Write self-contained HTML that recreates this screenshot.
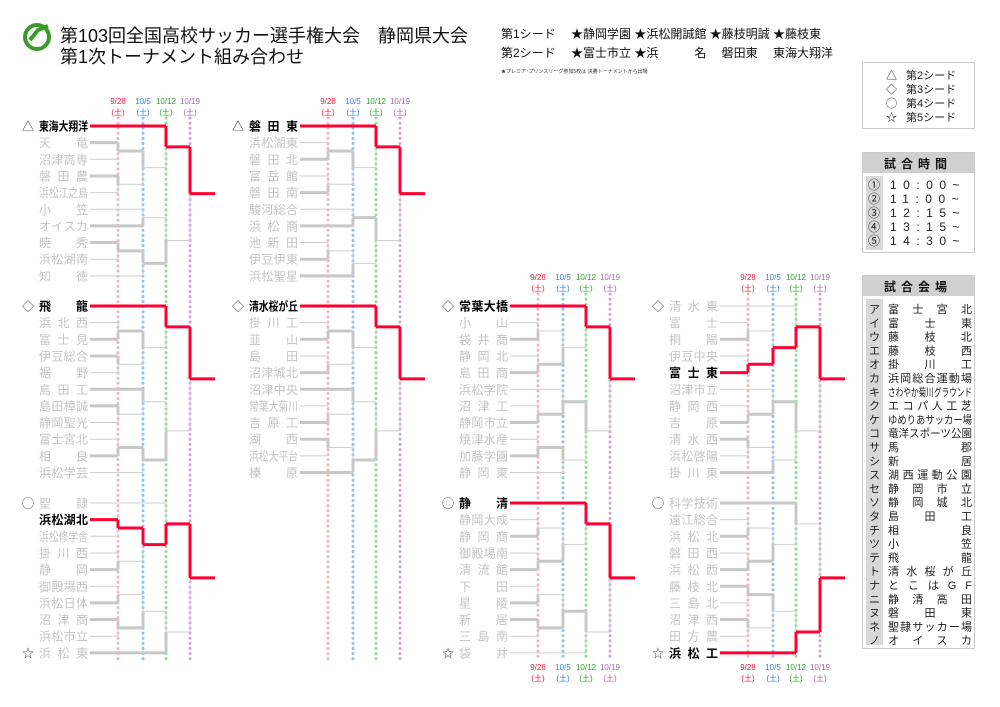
<!DOCTYPE html>
<html><head><meta charset="utf-8"><style>
html,body{margin:0;padding:0;background:#fff;}
svg{display:block;font-family:"Liberation Sans","Noto Sans CJK JP",sans-serif;}
</style></head><body>
<svg id="s" width="1000" height="707" viewBox="0 0 1000 707" xmlns="http://www.w3.org/2000/svg">
<circle cx="37" cy="37" r="12" fill="none" stroke="#3a9a2a" stroke-width="4"/>
<path d="M30 40 L38 30 L48 26" stroke="#3a9a2a" stroke-width="4" fill="none"/>
<text x="60" y="42" font-size="18" fill="#111">第103回全国高校サッカー選手権大会　静岡県大会</text>
<text x="60" y="63" font-size="18" fill="#111">第1次トーナメント組み合わせ</text>
<text x="501" y="38" font-size="12" fill="#111">第1シード　 ★静岡学園 ★浜松開誠館 ★藤枝明誠 ★藤枝東</text>
<text x="501" y="57" font-size="12" fill="#111">第2シード　 ★富士市立 ★浜　　　名　 磐田東　 東海大翔洋</text>
<text x="501" y="73" font-size="5" fill="#333">★プレミア･プリンスリーグ参加5校は 決勝トーナメントから出場</text>
<rect x="862.5" y="62.5" width="112" height="66" fill="none" stroke="#ccc"/>
<g font-size="11" fill="#222">
<text x="886" y="79">△</text><text x="906" y="79">第2シード</text>
<text x="886" y="93">◇</text><text x="906" y="93">第3シード</text>
<text x="886" y="107">◯</text><text x="906" y="107">第4シード</text>
<text x="886" y="121">☆</text><text x="906" y="121">第5シード</text>
</g>
<rect x="862.5" y="152.5" width="112" height="100" fill="none" stroke="#ccc"/>
<rect x="863" y="153" width="111" height="20" fill="#d0d0d0"/>
<text x="918" y="168" font-size="12" font-weight="bold" text-anchor="middle" fill="#111" letter-spacing="5">試合時間</text>
<rect x="866" y="176" width="17" height="74" fill="#d8d8d8"/>
<g font-size="12" fill="#222">
<text x="868" y="189">①</text><text x="890" y="189" letter-spacing="6.5">10:00~</text>
<text x="868" y="203">②</text><text x="890" y="203" letter-spacing="6.5">11:00~</text>
<text x="868" y="217">③</text><text x="890" y="217" letter-spacing="6.5">12:15~</text>
<text x="868" y="231">④</text><text x="890" y="231" letter-spacing="6.5">13:15~</text>
<text x="868" y="245">⑤</text><text x="890" y="245" letter-spacing="6.5">14:30~</text>
</g>
<rect x="862.5" y="275.5" width="112" height="373" fill="none" stroke="#ccc"/>
<rect x="863" y="276" width="111" height="20" fill="#d0d0d0"/>
<text x="918" y="291" font-size="12" font-weight="bold" text-anchor="middle" fill="#111" letter-spacing="5">試合会場</text>
<rect x="866" y="299" width="17" height="346" fill="#d8d8d8"/>
<g id="venue" font-size="11" fill="#222"></g>
<g id="br"></g>
</svg>
<script>
var NS="http://www.w3.org/2000/svg";
function el(p,t,a,txt){var e=document.createElementNS(NS,t);for(var k in a)e.setAttribute(k,a[k]);if(txt!=null)e.textContent=txt;p.appendChild(e);return e;}
var V=document.getElementById('venue');
var kana="アイウエオカキクケコサシスセソタチツテトナニヌネノ".split("");
var vn=["富士宮北","富士東","藤枝北","藤枝西","掛川工","浜岡総合運動場","さわやか菊川グラウンド","エコパ人工芝","ゆめりあサッカー場","竜洋スポーツ公園","馬郡","新居","湖西運動公園","静岡市立","静岡城北","島田工","相良","小笠","飛龍","清水桜が丘","とこはGF","静清高田","磐田東","聖隷サッカー場","オイスカ"];
for(var i=0;i<25;i++){var y=313+i*13.8;el(V,'text',{x:869,y:y},kana[i]);
 var n=vn[i];el(V,'text',{x:888,y:y,textLength:84,lengthAdjust:n.length>7?'spacingAndGlyphs':'spacing'},n);}
var B=document.getElementById('br');
var DC=["#f4b6be","#8fc3f3","#8ee08e","#d2a6d2"],TC=["#e8213f","#2f7fe8","#2aa52a","#a76aa7"],DL=["9/28","10/5","10/12","10/19"];
function cols(ox,y0,y1,labTop,labBot){
 var xs=[118,143,166,190];
 for(var i=0;i<4;i++){var x=xs[i]+ox;
  el(B,'line',{x1:x,y1:y0,x2:x,y2:y1,stroke:DC[i],'stroke-width':3,'stroke-dasharray':'0.1 5','stroke-linecap':'round'});
  [labTop,labBot].forEach(function(ly){if(ly==null)return;
   el(B,'text',{x:x,y:ly,'font-size':8,fill:TC[i],'text-anchor':'middle'},DL[i]);
   el(B,'text',{x:x,y:ly+11,'font-size':8,fill:TC[i],'text-anchor':'middle'},"(土)");});
 }
}
cols(0,118,660,104,null);cols(210,118,660,104,null);
cols(420,294,660,280,670);cols(630,294,660,280,670);
function sec(ox,y0,names,seed,win,matches){
 var xs=[118,143,166,190,215].map(function(v){return v+ox;});
 var ys=names.map(function(_,i){return y0+i*16.65;});
 el(B,'text',{x:ox+22,y:ys[0]+4.5,'font-size':12,fill:'#333'},seed[0]);
 if(seed[1])el(B,'text',{x:ox+22,y:ys[ys.length-1]+4.5,'font-size':12,fill:'#333'},seed[1]);
 names.forEach(function(n,i){var w=i===win;
  el(B,'text',{x:ox+39,y:ys[i]+4.5,'font-size':12,fill:w?'#000':'#c4c4c4','font-weight':w?'bold':'normal',textLength:49,lengthAdjust:n.length>4?'spacingAndGlyphs':'spacing'},n);});
 function info(n){if(typeof n==='number')return {y:ys[n],x:ox+90,red:n===win};
  var A=info(n.a),Bb=info(n.b),y=(A.y+Bb.y)/2,x=xs[n.c];
  var wi=n.w?Bb:A,lo=n.w?A:Bb;
  [lo,wi].forEach(function(ch){var isW=ch===wi;var col=ch.red&&isW?'#ff0033':(isW?'#c8c8c8':'#cfcfcf');var sw=(isW)?3:1;
   el(B,'line',{x1:ch.x,y1:ch.y,x2:x,y2:ch.y,stroke:col,'stroke-width':sw});
   el(B,'line',{x1:x,y1:ch.y,x2:x,y2:y,stroke:col,'stroke-width':isW?3:1});});
  return {y:y,x:x,red:wi.red};}
 var r=info(matches);
 el(B,'line',{x1:r.x,y1:r.y,x2:xs[4],y2:r.y,stroke:r.red?'#ff0033':'#c8c8c8','stroke-width':3});
}
function M(c,a,b,w){return {c:c,a:a,b:b,w:w};}
sec(0,126,["東海大翔洋","天　竜","沼津高専","磐田農","浜松江之島","小　笠","オイスカ","暁　秀","浜松湖南","知　徳"],["△"],0,
 M(3,M(2,0,M(1,M(0,1,2,0),M(0,3,4,0),0),0),M(2,M(1,5,6,1),M(1,M(0,7,8,0),9,0),1),0));
sec(0,306,["飛　龍","浜北西","富士見","伊豆総合","裾　野","島田工","島田樟誠","静岡聖光","富士宮北","相　良","浜松学芸"],["◇"],0,
 M(3,M(2,0,M(1,M(0,1,2,1),M(0,3,4,0),0),0),M(2,M(1,5,M(0,6,7,0),0),M(1,M(0,8,9,1),10,0),1),0));
sec(0,503,["聖　隷","浜松湖北","浜松修学舎","掛川西","静　岡","御殿場西","浜松日体","沼津商","浜松市立","浜松東"],["◯","☆"],1,
 M(3,M(2,0,M(1,M(0,1,2,0),M(0,3,4,1),0),1),M(2,M(1,M(0,5,6,1),M(0,7,8,0),1),9,1),0));
sec(210,126,["磐田東","浜松湖東","磐田北","富岳館","磐田南","駿河総合","浜松商","池新田","伊豆伊東","浜松聖星"],["△"],0,
 M(3,M(2,0,M(1,M(0,1,2,1),M(0,3,4,1),0),0),M(2,M(1,5,6,1),M(1,M(0,7,8,1),9,1),0),0));
sec(210,306,["清水桜が丘","掛川工","韮　山","島　田","沼津城北","沼津中央","常葉大菊川","吉原工","湖　西","浜松大平台","榛　原"],["◇"],0,
 M(3,M(2,0,M(1,M(0,1,2,1),M(0,3,4,1),0),0),M(2,M(1,5,M(0,6,7,1),0),M(1,M(0,8,9,0),10,1),1),0));
sec(420,306,["常葉大橋","小　山","袋井商","静岡北","島田商","浜松学院","沼津工","静岡市立","焼津水産","加藤学園","静岡東"],["◇"],0,
 M(3,M(2,0,M(1,M(0,1,2,1),M(0,3,4,1),1),0),M(2,M(1,5,M(0,6,7,1),1),M(1,M(0,8,9,1),10,0),0),0));
sec(420,503,["静　清","静岡大成","静岡商","御殿場南","清流館","下　田","星　陵","新　居","三島南","袋　井"],["◯","☆"],0,
 M(3,M(2,0,M(1,M(0,1,2,1),M(0,3,4,1),1),0),M(2,M(1,M(0,5,6,1),M(0,7,8,0),1),9,0),0));
sec(630,306,["清水東","富　士","桐　陽","伊豆中央","富士東","沼津市立","静岡西","吉　原","清水西","浜松啓陽","掛川東"],["◇"],4,
 M(3,M(2,0,M(1,M(0,1,2,1),M(0,3,4,1),1),1),M(2,M(1,5,M(0,6,7,1),1),M(1,M(0,8,9,0),10,1),0),0));
sec(630,503,["科学技術","遠江総合","浜松北","磐田西","浜松西","藤枝北","三島北","沼津西","田方農","浜松工"],["◯","☆"],9,
 M(3,M(2,0,M(1,M(0,1,2,1),M(0,3,4,1),1),0),M(2,M(1,M(0,5,6,0),M(0,7,8,0),0),9,1),1));
</script>
</body></html>
